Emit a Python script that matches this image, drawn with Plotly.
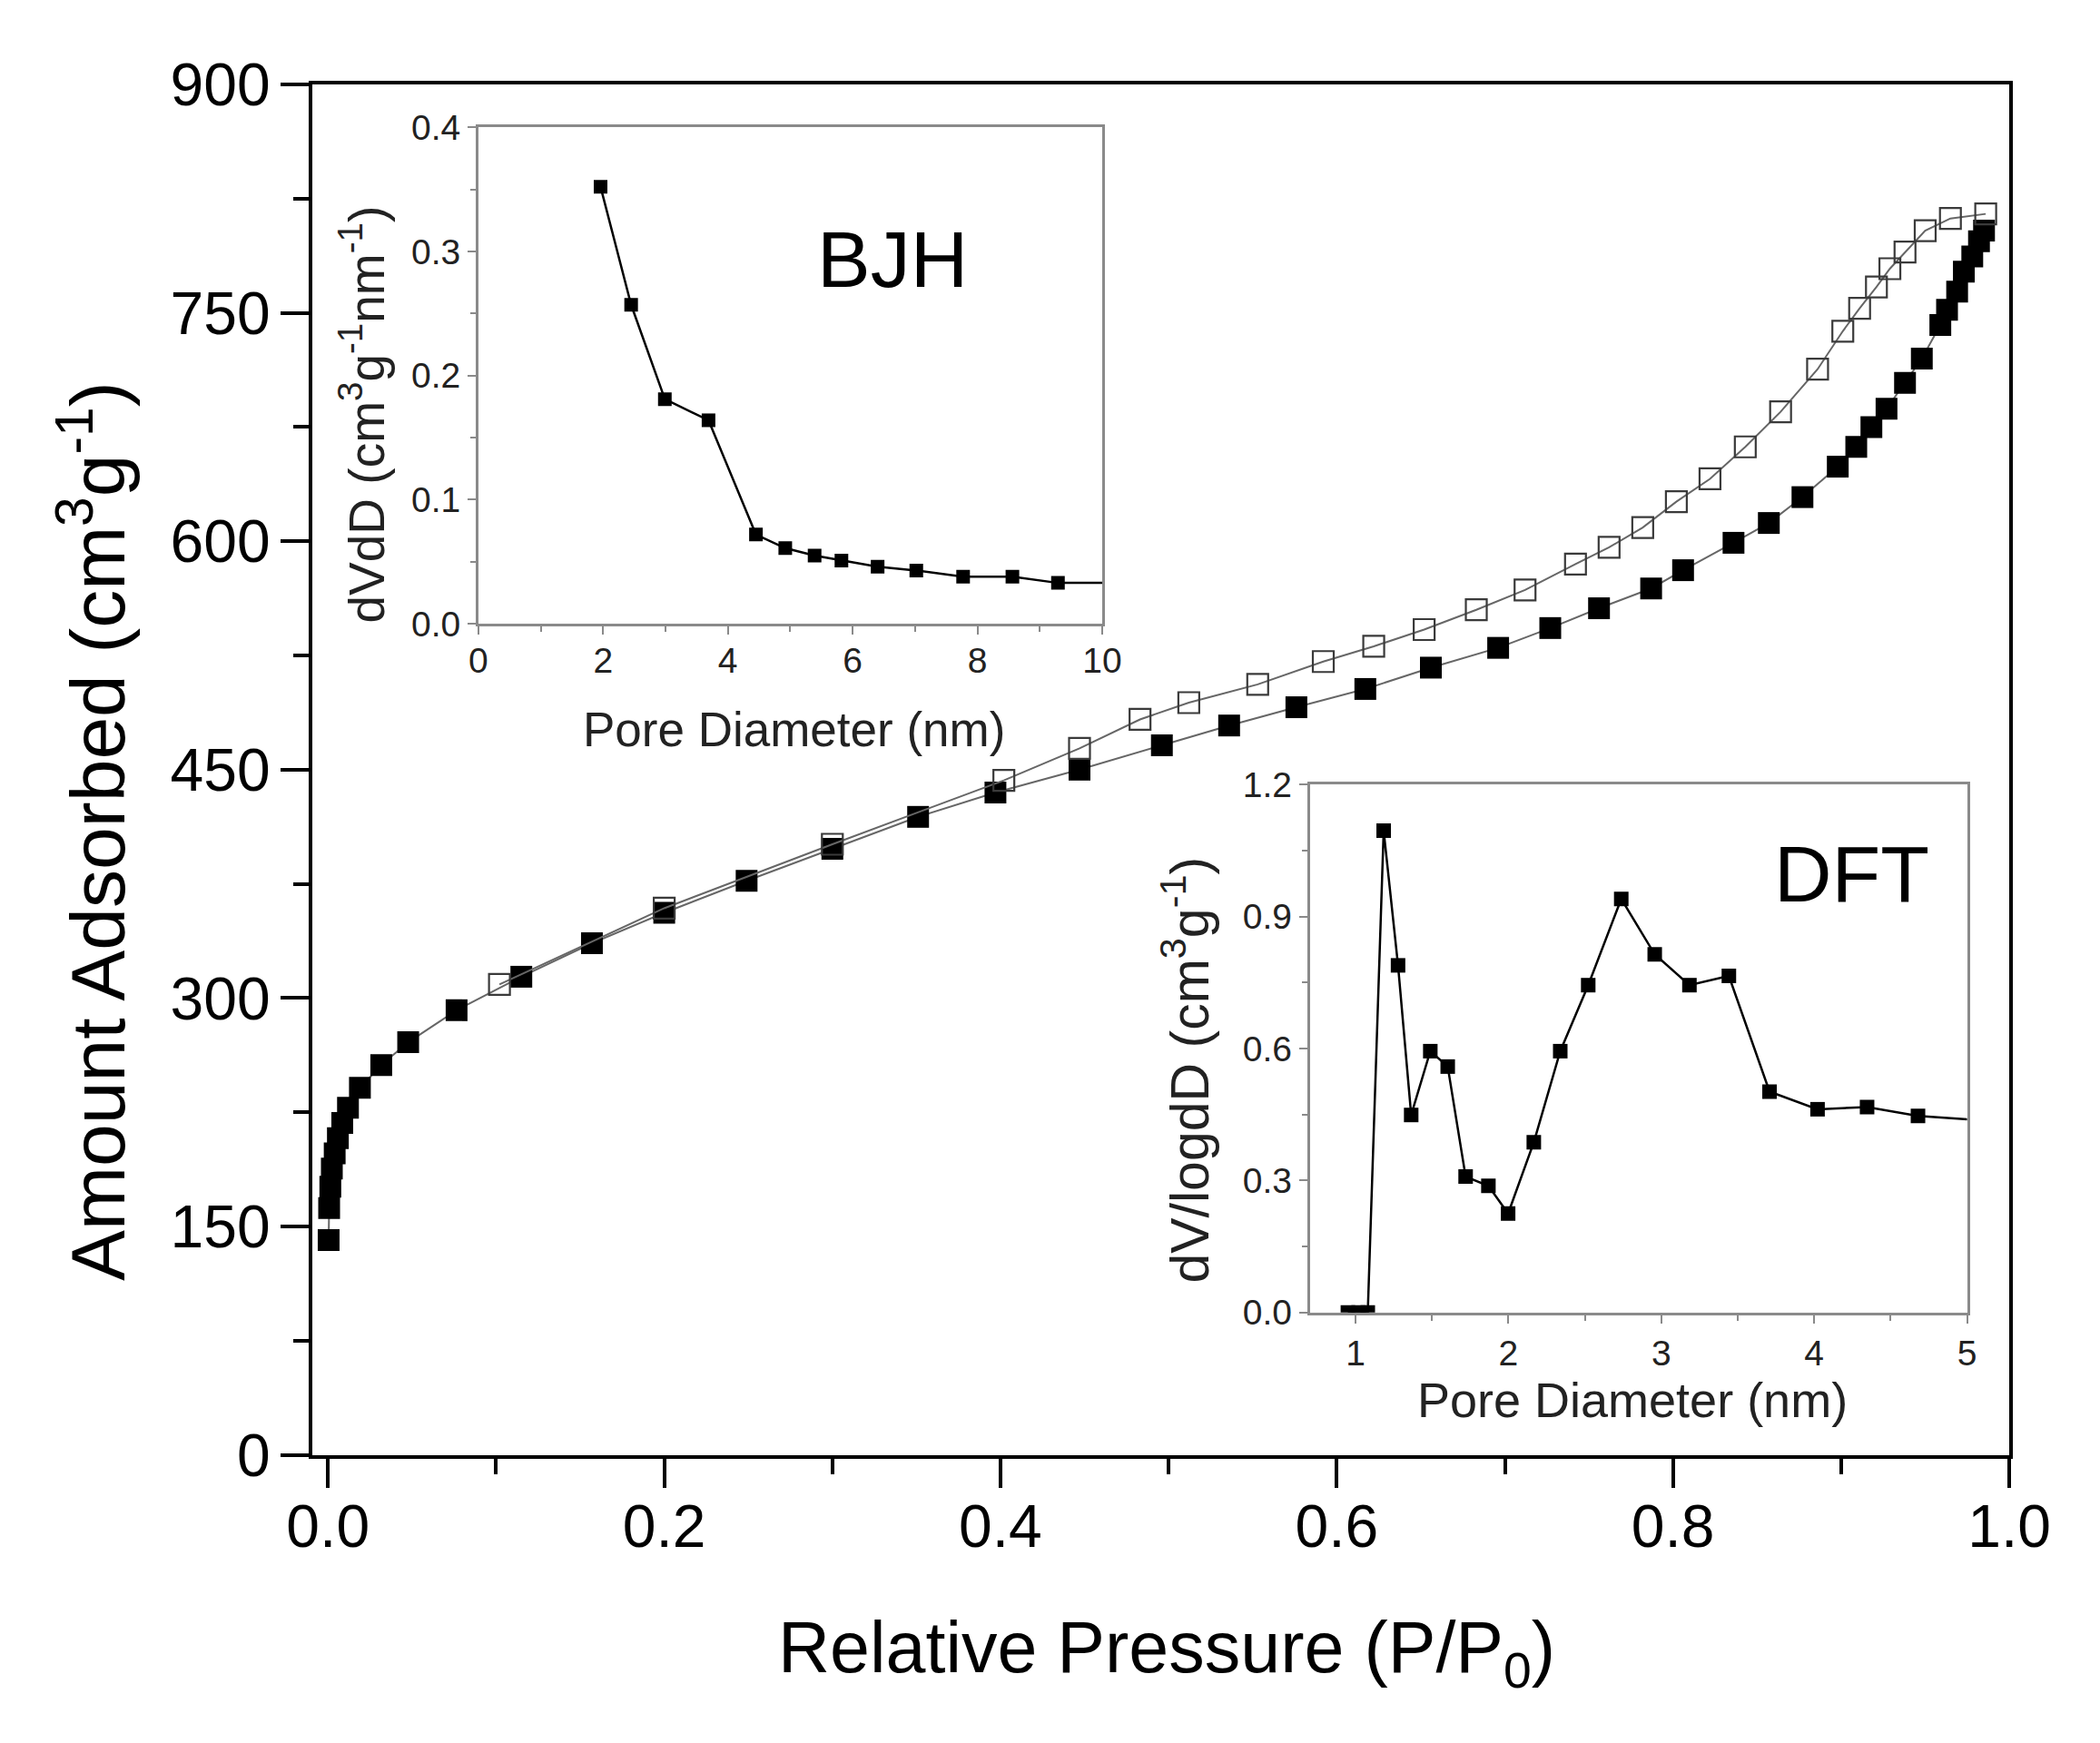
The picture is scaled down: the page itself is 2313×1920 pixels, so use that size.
#!/usr/bin/env python3
# plot.py
# N2 sorption isotherm with BJH and DFT pore size distribution insets.

import plotly.graph_objects as go

W, H = 2313, 1920
FONT = "Liberation Sans, Arial, sans-serif"

# Main isotherm: adsorption branch (filled squares)
ads_p = [0.0004, 0.0007, 0.0014, 0.0023, 0.004, 0.0059, 0.0085, 0.0119, 0.019,
         0.0317, 0.0477, 0.0765, 0.115, 0.157, 0.200, 0.249, 0.300, 0.351,
         0.397, 0.447, 0.496, 0.536, 0.576, 0.617, 0.656, 0.696, 0.727, 0.756,
         0.787, 0.806, 0.836, 0.857, 0.877, 0.898, 0.909, 0.918, 0.927, 0.938,
         0.948, 0.959, 0.963, 0.969, 0.973, 0.978, 0.982, 0.985]
ads_v = [141, 162, 176, 188, 198, 208, 218, 228, 241,
         256, 271, 292, 314, 336, 356, 377, 398, 419,
         435, 450, 466, 479, 491, 503, 517, 530, 543, 556,
         569, 581, 599, 612, 629, 649, 662, 675, 687, 704,
         720, 742, 752, 764, 777, 787, 797, 804]

# Desorption branch (open squares)
des_p = [0.986, 0.965, 0.950, 0.938, 0.929, 0.921, 0.911, 0.901, 0.886, 0.864,
         0.843, 0.822, 0.802, 0.782, 0.762, 0.742, 0.712, 0.683, 0.652, 0.622,
         0.592, 0.553, 0.512, 0.483, 0.447, 0.402, 0.300, 0.200, 0.102]
des_v = [815, 812, 804, 790, 779, 767, 753, 738, 713, 685,
         662, 641, 626, 609, 596, 585, 568, 555, 542, 531,
         521, 506, 494, 483, 464, 443, 401, 359, 309]

# BJH inset
bjh_d = [1.96, 2.45, 2.99, 3.69, 4.45, 4.92, 5.39, 5.82, 6.40, 7.02, 7.77,
         8.56, 9.29, 10.3]
bjh_v = [0.352, 0.257, 0.181, 0.164, 0.072, 0.061, 0.055, 0.051, 0.046,
         0.043, 0.038, 0.038, 0.033, 0.033]

# DFT inset
dft_d = [0.95, 1.02, 1.08, 1.184, 1.278, 1.364, 1.489, 1.603, 1.720, 1.869,
         1.998, 2.166, 2.339, 2.522, 2.738, 2.957, 3.184, 3.442, 3.708, 4.022,
         4.346, 4.679, 5.05]
dft_v = [0.0, 0.0, 0.0, 1.095, 0.789, 0.449, 0.594, 0.559, 0.309, 0.288,
         0.225, 0.387, 0.594, 0.744, 0.940, 0.814, 0.744, 0.765, 0.502, 0.462,
         0.467, 0.447, 0.438]


def px_x(p):
    return p / W


def px_y(p):
    return 1 - p / H


fig = go.Figure()

fig.add_trace(go.Scatter(
    x=ads_p, y=ads_v, mode='lines+markers', xaxis='x', yaxis='y',
    line=dict(color='#666666', width=2),
    marker=dict(symbol='square', size=24, color='black',
                line=dict(color='black', width=0)),
    showlegend=False))
fig.add_trace(go.Scatter(
    x=des_p, y=des_v, mode='lines+markers', xaxis='x', yaxis='y',
    line=dict(color='#666666', width=2),
    marker=dict(symbol='square-open', size=23, color='#3a3a3a',
                line=dict(color='#3a3a3a', width=2.2)),
    showlegend=False))
fig.add_trace(go.Scatter(
    x=bjh_d, y=bjh_v, mode='lines+markers', xaxis='x2', yaxis='y2',
    line=dict(color='black', width=2.5),
    marker=dict(symbol='square', size=15, color='black'),
    showlegend=False))
fig.add_trace(go.Scatter(
    x=dft_d, y=dft_v, mode='lines+markers', xaxis='x3', yaxis='y3',
    line=dict(color='black', width=2.5),
    marker=dict(symbol='square', size=16, color='black'),
    showlegend=False))

main_tick = dict(family=FONT, size=66, color='black')
inset_tick = dict(family=FONT, size=39, color='#222222')

main_axis = dict(showgrid=False, zeroline=False, showline=True,
                 linecolor='black', linewidth=4, mirror=True,
                 ticks='outside', tickwidth=4, tickcolor='black',
                 tickfont=main_tick)
inset_axis = dict(showgrid=False, zeroline=False, showline=True,
                  linecolor='#8a8a8a', linewidth=2.5, mirror=True,
                  ticks='outside', ticklen=9, tickwidth=2, tickcolor='#8a8a8a',
                  tickfont=inset_tick)

fig.update_layout(
    width=W, height=H,
    margin=dict(l=0, r=0, t=0, b=0),
    paper_bgcolor='white', plot_bgcolor='rgba(0,0,0,0)',
    font=dict(family=FONT, color='black'),
    xaxis=dict(main_axis, domain=[px_x(318), px_x(2249)],
               range=[-0.0094, 1.0], dtick=0.2, tickformat='.1f', ticklen=32,
               minor=dict(dtick=0.1, ticks='outside', ticklen=17,
                          tickwidth=4, tickcolor='black'),
               anchor='y', ticklabelstandoff=-14),
    yaxis=dict(main_axis, domain=[px_y(1620), px_y(50)],
               range=[0, 900], dtick=150, ticklen=31,
               minor=dict(dtick=75, ticks='outside', ticklen=17,
                          tickwidth=4, tickcolor='black'),
               anchor='x', ticklabelstandoff=-2),
    xaxis2=dict(inset_axis, domain=[px_x(507), px_x(1217)],
                range=[0, 10], dtick=2, anchor='y2', ticklabelstandoff=-5,
                minor=dict(dtick=1, ticks='outside', ticklen=6,
                           tickwidth=2, tickcolor='#8a8a8a')),
    yaxis2=dict(inset_axis, domain=[px_y(668), px_y(99)],
                range=[0, 0.4], dtick=0.1, tickformat='.1f', anchor='x2',
                minor=dict(dtick=0.05, ticks='outside', ticklen=6,
                           tickwidth=2, tickcolor='#8a8a8a')),
    xaxis3=dict(inset_axis, domain=[px_x(1453), px_x(2201)],
                range=[0.7, 5.0], dtick=1, anchor='y3',
                minor=dict(dtick=0.5, ticks='outside', ticklen=6,
                           tickwidth=2, tickcolor='#8a8a8a')),
    yaxis3=dict(inset_axis, domain=[px_y(1457), px_y(852)],
                range=[0, 1.2], dtick=0.3, tickformat='.1f', anchor='x3',
                minor=dict(dtick=0.15, ticks='outside', ticklen=6,
                           tickwidth=2, tickcolor='#8a8a8a')),
)

# Axis titles and labels as annotations, placed in paper coordinates
labels = [
    ("Relative Pressure (P/P<sub>0</sub>)", 1290, 1847, 79, 0, 'black'),
    ("Amount Adsorbed (cm<sup>3</sup>g<sup>-1</sup>)", 68, 905, 84, -90, 'black'),
    ("Pore Diameter (nm)", 866, 789, 53, 0, '#222222'),
    ("dVdD (cm<sup>3</sup>g<sup>-1</sup>nm<sup>-1</sup>)", 375, 428, 55, -90, '#222222'),
    ("Pore Diameter (nm)", 1820, 1557, 54, 0, '#222222'),
    ("dV/logdD (cm<sup>3</sup>g<sup>-1</sup>)", 1313, 1179, 59, -90, '#222222'),
    ("BJH", 978, 250, 88, 0, 'black'),
    ("DFT", 2070, 954, 88, 0, 'black'),
]
for text, x, y, size, angle, color in labels:
    fig.add_annotation(text=text, x=px_x(x), y=px_y(y), xref='paper',
                       yref='paper', showarrow=False, textangle=angle,
                       xanchor='center', yanchor='middle',
                       font=dict(family=FONT, size=size, color=color))

fig.write_html("out.html")
